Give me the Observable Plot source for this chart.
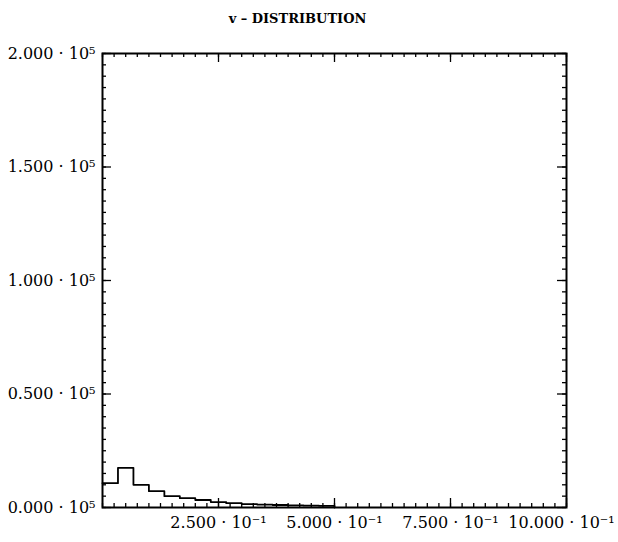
<!DOCTYPE html>
<html><head><meta charset="utf-8">
<script src="https://cdn.jsdelivr.net/npm/d3@7"></script>
<script src="https://cdn.jsdelivr.net/npm/@observablehq/plot@0.6"></script>
<style>body{margin:0;background:#fff}</style>
</head><body><div id="chart"></div>
<script>
const title = "v – DISTRIBUTION";
const binWidth = 1 / 30;
const counts = [10700, 17500, 10000, 7200, 5000, 4100, 3300, 2400, 1900, 1500, 1300, 1100, 900, 800, 700];
const xTicks = [0.25, 0.5, 0.75, 1.0];
const xTickLabels = ["2.500 · 10⁻¹", "5.000 · 10⁻¹", "7.500 · 10⁻¹", "10.000 · 10⁻¹"];
const yTicks = [0, 50000, 100000, 150000, 200000];
const yTickLabels = ["0.000 · 10⁵", "0.500 · 10⁵", "1.000 · 10⁵", "1.500 · 10⁵", "2.000 · 10⁵"];
const xMinorStep = 0.025;
const yMinorStep = 5000;

const W = 618, H = 542, mL = 102, mR = 52, mT = 53, mB = 35;
const fw = W - mL - mR, fh = H - mT - mB;
const xMinor = d3.range(0, 1 + 1e-9, xMinorStep);
const yMinor = d3.range(0, 200000 + 1, yMinorStep);
const steps = counts.map((c, i) => ({x: i * binWidth, y: c})).concat([{x: counts.length * binWidth, y: 0}]);
const tick = {stroke: "black", strokeWidth: 1.3};
const heavy = {stroke: "black", strokeWidth: 0.5, fill: "black"};
const xFmt = d => xTickLabels[xTicks.indexOf(d)];

const chart = Plot.plot({
  width: W, height: H,
  marginLeft: mL, marginRight: mR, marginTop: mT, marginBottom: mB,
  style: {fontFamily: "DejaVu Serif", fontSize: "16px", background: "white", color: "black"},
  x: {domain: [0, 1], label: null},
  y: {domain: [0, 200000], label: null},
  marks: [
    Plot.tickX(xMinor, {x: d => d, insetTop: fh - 4, ...tick}),
    Plot.tickX(xMinor, {x: d => d, insetBottom: fh - 4, ...tick}),
    Plot.tickX(xTicks, {x: d => d, insetTop: fh - 9, ...tick}),
    Plot.tickX(xTicks, {x: d => d, insetBottom: fh - 9, ...tick}),
    Plot.tickY(yMinor, {y: d => d, insetRight: fw - 4, ...tick}),
    Plot.tickY(yMinor, {y: d => d, insetLeft: fw - 4, ...tick}),
    Plot.tickY(yTicks, {y: d => d, insetRight: fw - 9, ...tick}),
    Plot.tickY(yTicks, {y: d => d, insetLeft: fw - 9, ...tick}),
    Plot.line(steps, {x: "x", y: "y", curve: "step-after", stroke: "black", strokeWidth: 1.8}),
    Plot.frame({stroke: "black", strokeWidth: 2}),
    Plot.axisX(xTicks.slice(0, 3), {anchor: "bottom", label: null, tickSize: 0, tickPadding: 9, ...heavy, tickFormat: xFmt}),
    Plot.axisX(xTicks.slice(3), {anchor: "bottom", label: null, tickSize: 0, tickPadding: 9, dx: -5, ...heavy, tickFormat: xFmt}),
    Plot.axisY(yTicks, {anchor: "left", label: null, tickSize: 0, tickPadding: 7, ...heavy, tickFormat: d => yTickLabels[yTicks.indexOf(d)]}),
    Plot.text([title], {frameAnchor: "top", dx: -37, dy: -40, text: d => d, fontSize: 13, fontWeight: "bold"})
  ]
});
document.getElementById("chart").append(chart);
</script>
</body></html>
